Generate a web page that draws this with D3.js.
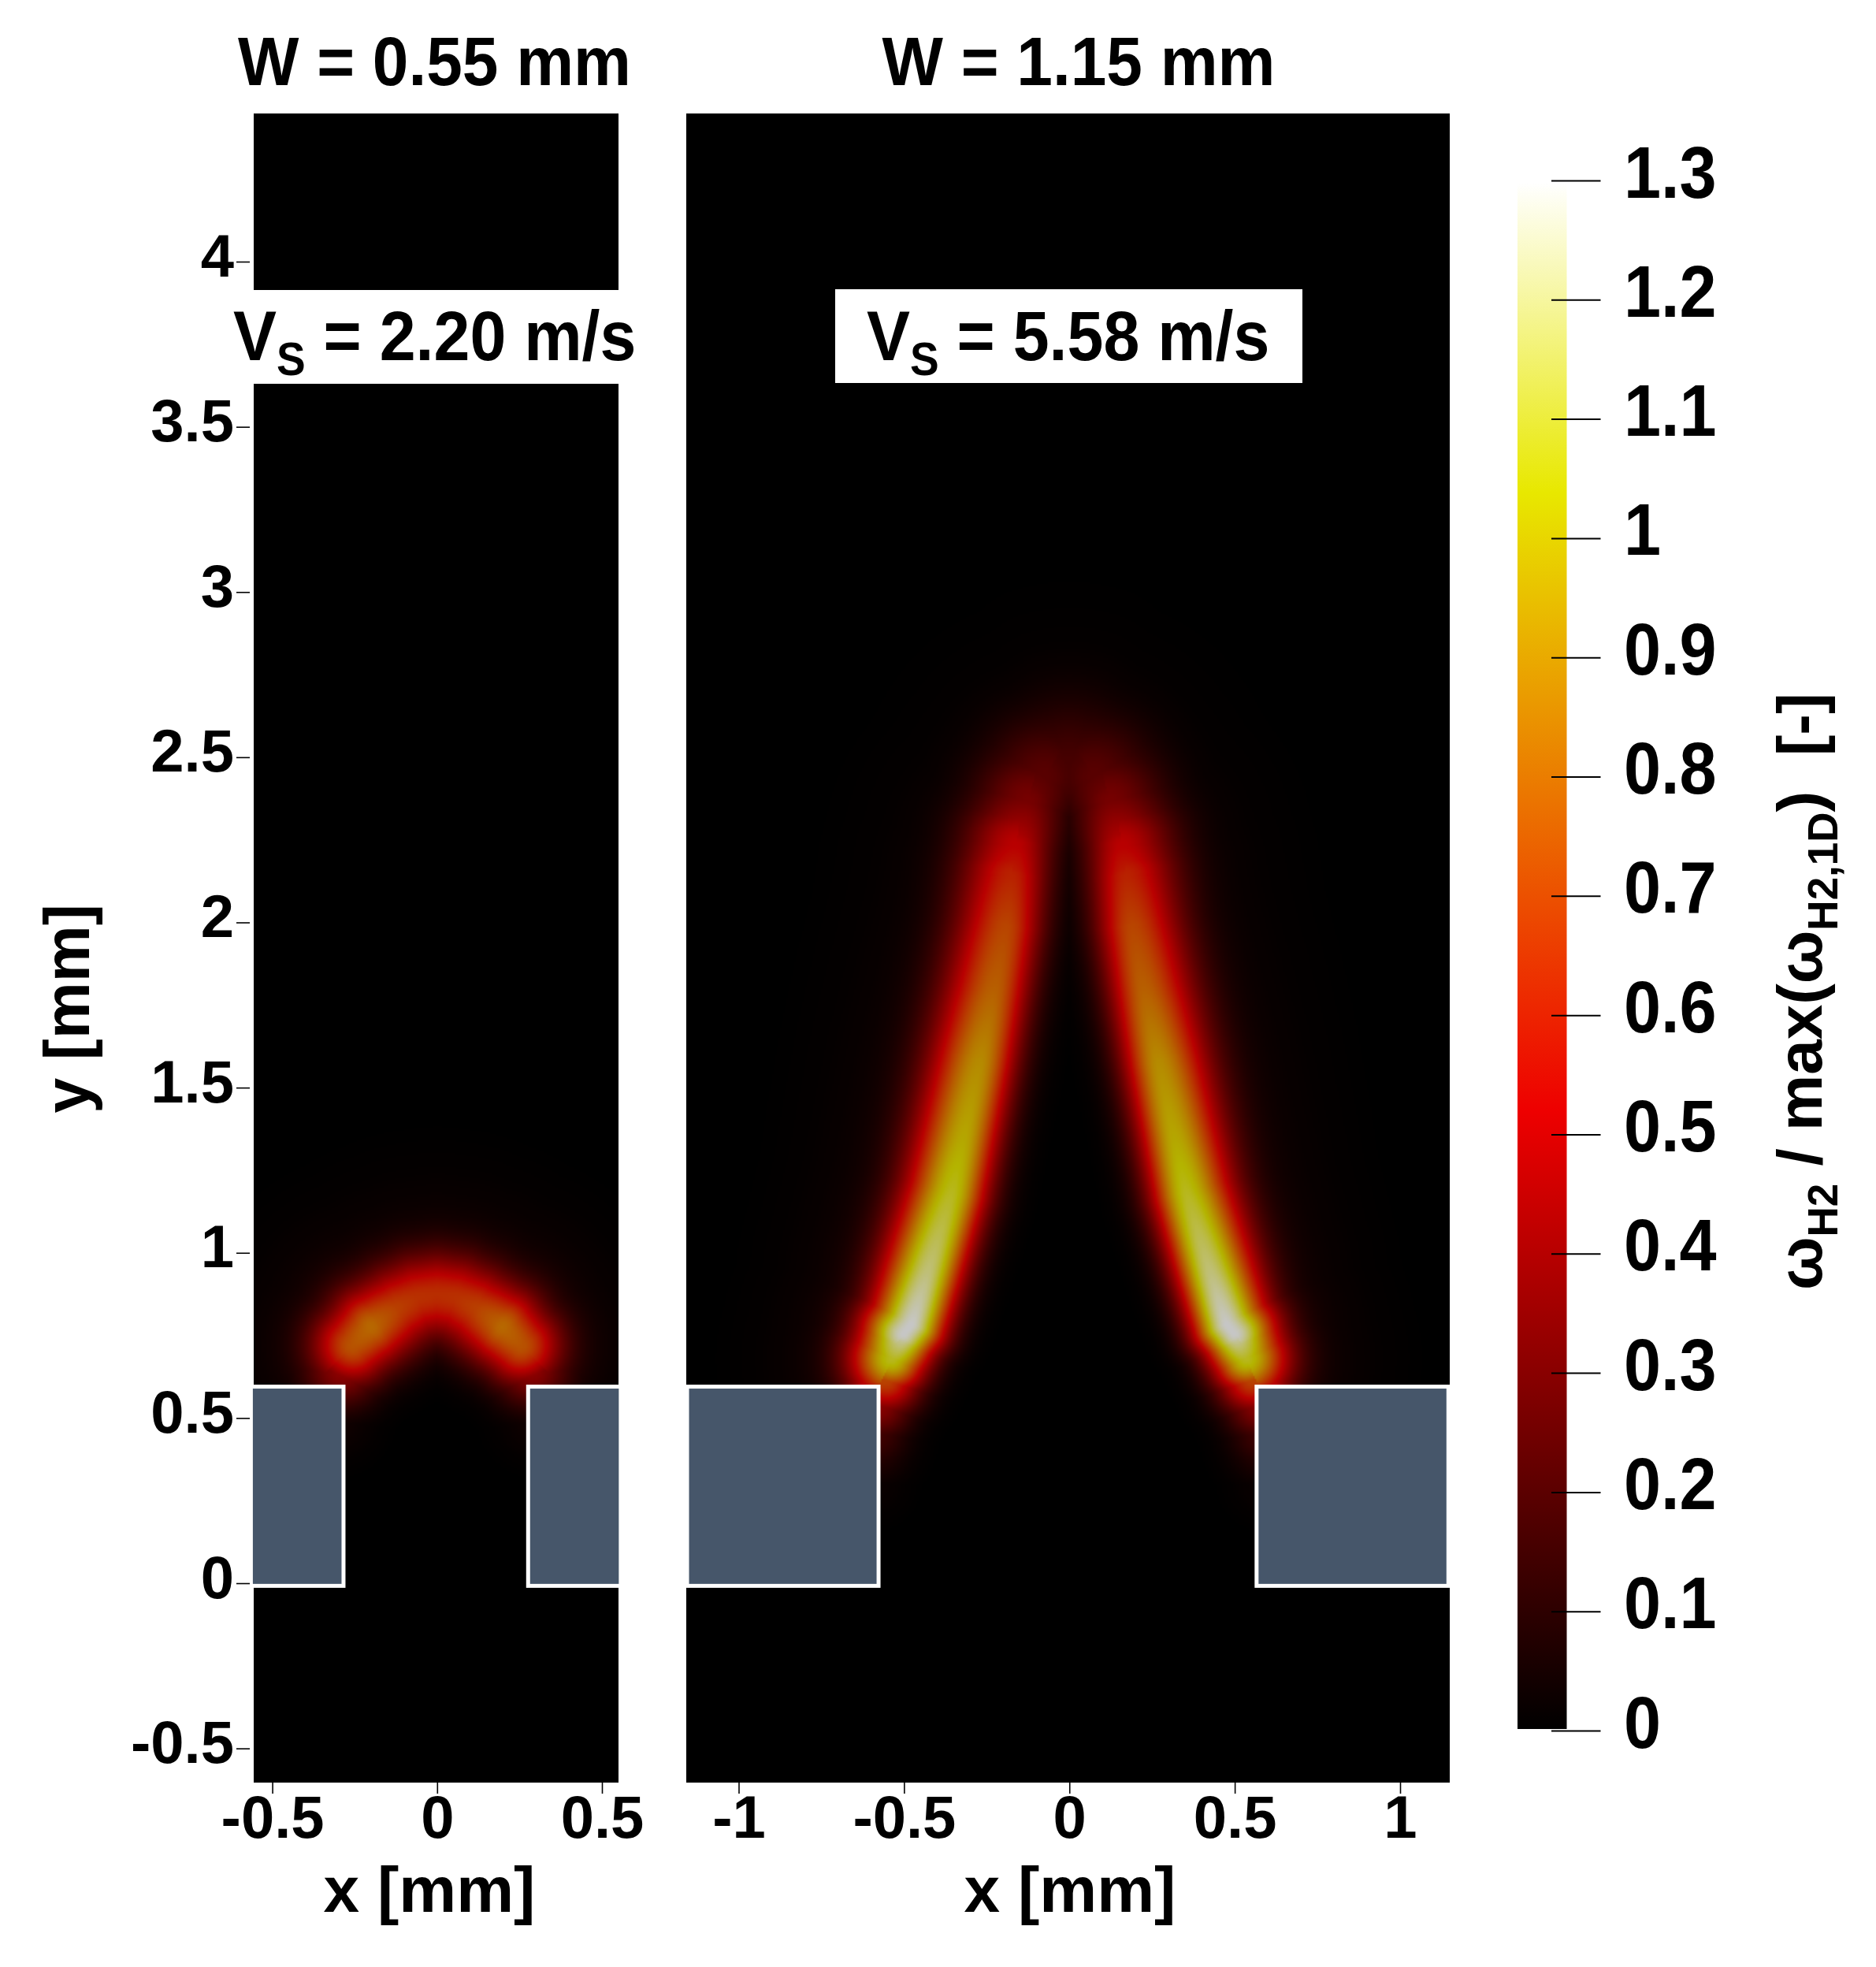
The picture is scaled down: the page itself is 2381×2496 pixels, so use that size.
<!DOCTYPE html>
<html>
<head>
<meta charset="utf-8">
<script src="https://cdn.jsdelivr.net/npm/d3@7"></script>
<style>
html,body{margin:0;padding:0;background:#fff}
svg{display:block}
text{font-family:"Liberation Sans",Arial,sans-serif;font-weight:700;fill:#000;white-space:pre}
.tick line{stroke:#000}
</style>
</head>
<body>
<svg id="chart" width="2381" height="2496" viewBox="0 0 2381 2496" xmlns="http://www.w3.org/2000/svg"></svg>
<script>
// ---- data (mm, and normalised rate) ----
const yTicks = [-0.5, 0, 0.5, 1, 1.5, 2, 2.5, 3, 3.5, 4];
const xTicksNarrow = [-0.5, 0, 0.5];
const xTicksWide = [-1, -0.5, 0, 0.5, 1];
const cbarTicks = [0, 0.1, 0.2, 0.3, 0.4, 0.5, 0.6, 0.7, 0.8, 0.9, 1, 1.1, 1.2, 1.3];

// colour map
const cmapValues = [0, 0.52, 1.04, 1.3];
const cmapColors = ["#000000", "#ee0000", "#e8e800", "#ffffff"];
const fieldBrightness = 0.78;

// flame ridge, right half (mirrored about x = 0), W = 0.55 mm, from centre to tip
const narrowRidgeX = [0, 0.06, 0.118, 0.2, 0.255, 0.285, 0.305];
const narrowRidgeY = [0.873, 0.863, 0.834, 0.775, 0.72, 0.65, 0.5];
const narrowRidgeV = [0.65, 0.66, 0.70, 0.82, 0.76, 0.40, 0.05];
const narrowSigmaIn = [0.095, 0.095, 0.095, 0.09, 0.085, 0.08, 0.08];
const narrowSigmaOut = [0.088, 0.088, 0.088, 0.088, 0.085, 0.08, 0.08];

// flame ridge, right half, W = 1.15 mm, from centre to tip
const wideRidgeX = [0, 0.076, 0.124, 0.16, 0.173, 0.19, 0.227, 0.27, 0.319, 0.355, 0.428, 0.476, 0.5, 0.535, 0.555, 0.575, 0.585, 0.59];
const wideRidgeY = [2.47, 2.44, 2.366, 2.23, 2.137, 1.986, 1.788, 1.576, 1.347, 1.18, 0.937, 0.784, 0.754, 0.68, 0.62, 0.54, 0.45, 0.3];
const wideRidgeV = [0.2, 0.25, 0.33, 0.52, 0.62, 0.72, 0.80, 0.92, 1.0, 1.08, 1.2, 1.3, 1.3, 1.08, 0.72, 0.38, 0.18, 0.03];
const wideSigmaIn = [0.14, 0.105, 0.09, 0.082, 0.08, 0.078, 0.078, 0.078, 0.078, 0.078, 0.076, 0.074, 0.074, 0.076, 0.076, 0.072, 0.07, 0.07];
const wideSigmaOut = [0.14, 0.125, 0.115, 0.112, 0.11, 0.108, 0.108, 0.106, 0.103, 0.1, 0.096, 0.09, 0.09, 0.09, 0.085, 0.08, 0.08, 0.08];

// solid blocks [x0, x1], y range shared
const narrowBlocks = [[-0.565, -0.284], [0.276, 0.557]];
const wideBlocks = [[-1.156, -0.577], [0.566, 1.146]];
const blockY = [-0.008, 0.595];

// ---- scales ----
const yScale = d3.scaleLinear().domain([0, 4]).range([2009, 332]);
const xNarrow = d3.scaleLinear().domain([-0.5, 0.5]).range([345.6, 764]);
const xWide = d3.scaleLinear().domain([-1, 1]).range([937.5, 1777]);
const cbarScale = d3.scaleLinear().domain([0, 1.3]).range([2196, 229]);
const colorScale = d3.scaleLinear().domain(cmapValues).range(cmapColors).clamp(true);

const panelTop = 144, panelBottom = 2262;
const svg = d3.select("#chart");

// colour lookup
const LUT_N = 2048, LUT_MAX = 1.3;
const lut = new Uint8Array(LUT_N * 3);
for (let i = 0; i < LUT_N; i++) {
  const c = d3.color(colorScale(i / (LUT_N - 1) * LUT_MAX));
  lut[i * 3] = c.r * fieldBrightness;
  lut[i * 3 + 1] = c.g * fieldBrightness;
  lut[i * 3 + 2] = c.b * fieldBrightness;
}

function renderField(xs, x0, x1, rx, ry, rv, rsi, rso, halo, haloK) {
  const step = 2;
  const w = Math.ceil((x1 - x0) / step), h = Math.ceil((panelBottom - panelTop) / step);
  const cv = document.createElement("canvas");
  cv.width = w; cv.height = h;
  const ctx = cv.getContext("2d");
  const img = ctx.createImageData(w, h);
  const n = rx.length - 1;
  for (let j = 0; j < h; j++) {
    const py = yScale.invert(panelTop + (j + 0.5) * step);
    for (let i = 0; i < w; i++) {
      const px = Math.abs(xs.invert(x0 + (i + 0.5) * step));
      let best = 0;
      for (let k = 0; k < n; k++) {
        const dx = rx[k + 1] - rx[k], dy = ry[k + 1] - ry[k];
        const qx = px - rx[k], qy = py - ry[k];
        let t = (qx * dx + qy * dy) / (dx * dx + dy * dy);
        t = t < 0 ? 0 : t > 1 ? 1 : t;
        const ex = qx - t * dx, ey = qy - t * dy;
        const d2 = ex * ex + ey * ey;
        const outer = dx * qy - dy * qx > 0;
        const v = rv[k] + t * (rv[k + 1] - rv[k]);
        let val;
        if (outer) {
          const s = rso[k] + t * (rso[k + 1] - rso[k]);
          const ks = s * haloK;
          val = v * ((1 - halo) * Math.exp(-d2 / (2 * s * s)) + halo * Math.exp(-d2 / (2 * ks * ks)));
        } else {
          const s = rsi[k] + t * (rsi[k + 1] - rsi[k]);
          val = v * Math.exp(-d2 / (2 * s * s));
        }
        if (val > best) best = val;
      }
      const idx = Math.min(LUT_N - 1, Math.round(best / LUT_MAX * (LUT_N - 1)));
      const o = (j * w + i) * 4;
      img.data[o] = lut[idx * 3];
      img.data[o + 1] = lut[idx * 3 + 1];
      img.data[o + 2] = lut[idx * 3 + 2];
      img.data[o + 3] = 255;
    }
  }
  ctx.putImageData(img, 0, 0);
  svg.append("image")
    .attr("x", x0).attr("y", panelTop)
    .attr("width", x1 - x0).attr("height", panelBottom - panelTop)
    .attr("preserveAspectRatio", "none")
    .attr("href", cv.toDataURL("image/png"));
}

renderField(xNarrow, 322, 785, narrowRidgeX, narrowRidgeY, narrowRidgeV, narrowSigmaIn, narrowSigmaOut, 0.1, 2.4);
renderField(xWide, 871, 1840, wideRidgeX, wideRidgeY, wideRidgeV, wideSigmaIn, wideSigmaOut, 0.07, 2.4);

function drawBlocks(blocks, xs) {
  svg.append("g").selectAll("rect").data(blocks).join("rect")
    .attr("x", d => xs(d[0]))
    .attr("width", d => xs(d[1]) - xs(d[0]))
    .attr("y", yScale(blockY[1]))
    .attr("height", yScale(blockY[0]) - yScale(blockY[1]))
    .attr("fill", "#46566a")
    .attr("stroke", "#fff")
    .attr("stroke-width", 5);
}
drawBlocks(narrowBlocks, xNarrow);
drawBlocks(wideBlocks, xWide);

// white cut-outs behind the speed labels
svg.append("rect").attr("x", 318).attr("y", 368).attr("width", 472).attr("height", 119).attr("fill", "#fff");
svg.append("rect").attr("x", 1060).attr("y", 367).attr("width", 593).attr("height", 119).attr("fill", "#fff");

// axes
const TICK_FONT = 76;
function styleAxis(g) {
  g.select(".domain").remove();
  g.selectAll(".tick line").attr("stroke", "#222").attr("stroke-width", 1.6);
  g.selectAll(".tick text").attr("font-size", TICK_FONT)
    .style("font-family", '"Liberation Sans",Arial,sans-serif').style("font-weight", 700);
}
const yAxisG = svg.append("g").attr("transform", "translate(317,0)")
  .call(d3.axisLeft(yScale).tickValues(yTicks).tickFormat(String).tickSize(17).tickPadding(3));
styleAxis(yAxisG);
yAxisG.selectAll(".tick text").attr("dy", 18);

function xAxis(xs, ticks) {
  const g = svg.append("g").attr("transform", `translate(0,${panelBottom})`)
    .call(d3.axisBottom(xs).tickValues(ticks).tickFormat(String).tickSize(14));
  styleAxis(g);
  g.selectAll(".tick text").attr("y", 0).attr("dy", 70);
}
xAxis(xNarrow, xTicksNarrow);
xAxis(xWide, xTicksWide);

// colour bar
const defs = svg.append("defs");
const grad = defs.append("linearGradient").attr("id", "cbar")
  .attr("x1", 0).attr("x2", 0).attr("y1", 1).attr("y2", 0);
grad.selectAll("stop").data(cmapValues).join("stop")
  .attr("offset", d => d / 1.3)
  .attr("stop-color", d => colorScale(d));
svg.append("rect").attr("x", 1926).attr("y", 232).attr("width", 62.5).attr("height", 1962)
  .attr("fill", "url(#cbar)");
const cbarG = svg.append("g").attr("transform", "translate(1969,0)")
  .call(d3.axisRight(cbarScale).tickValues(cbarTicks).tickFormat(String).tickSize(62.5));
cbarG.select(".domain").remove();
cbarG.selectAll(".tick line").attr("stroke", "#000").attr("stroke-width", 2);
cbarG.selectAll(".tick text")
  .attr("x", 0).attr("dy", 0).attr("text-anchor", "start")
  .attr("font-size", 92)
  .style("font-family", '"Liberation Sans",Arial,sans-serif').style("font-weight", 700)
  .attr("transform", "translate(92,21) scale(0.92,1)");

// titles and labels
function title(t, cx, y) {
  svg.append("text").attr("transform", `translate(${cx},${y}) scale(1,1.07)`)
    .attr("text-anchor", "middle").attr("font-size", 82).text(t);
}
title("W = 0.55 mm", 551.5, 108);
title("W = 1.15 mm", 1369, 108);

function speed(x, rest) {
  const t = svg.append("text").attr("transform", `translate(${x},457) scale(1,1.07)`).attr("font-size", 82.5);
  t.append("tspan").text("V");
  t.append("tspan").attr("dy", 18).attr("font-size", 55).text("S");
  t.append("tspan").attr("dy", -18).text(" = " + rest);
}
speed(296, "2.20 m/s");
speed(1100, "5.58 m/s");

svg.append("text").attr("x", 545).attr("y", 2426).attr("text-anchor", "middle").attr("font-size", 82).text("x [mm]");
svg.append("text").attr("x", 1358).attr("y", 2426).attr("text-anchor", "middle").attr("font-size", 82).text("x [mm]");
svg.append("text").attr("transform", "translate(113,1280) rotate(-90)").attr("text-anchor", "middle").attr("font-size", 81).text("y [mm]");

const cl = svg.append("text").attr("transform", "translate(2312,1637) rotate(-90)").attr("font-size", 80);
const SUB = 20;
cl.append("tspan").text("ω");
cl.append("tspan").attr("dy", SUB).attr("font-size", 53).text("H2");
cl.append("tspan").attr("dy", -SUB).text(" / max(ω");
cl.append("tspan").attr("dy", SUB).attr("font-size", 53).text("H2,1D");
cl.append("tspan").attr("dy", -SUB).text(")  [-]");
</script>
</body>
</html>
